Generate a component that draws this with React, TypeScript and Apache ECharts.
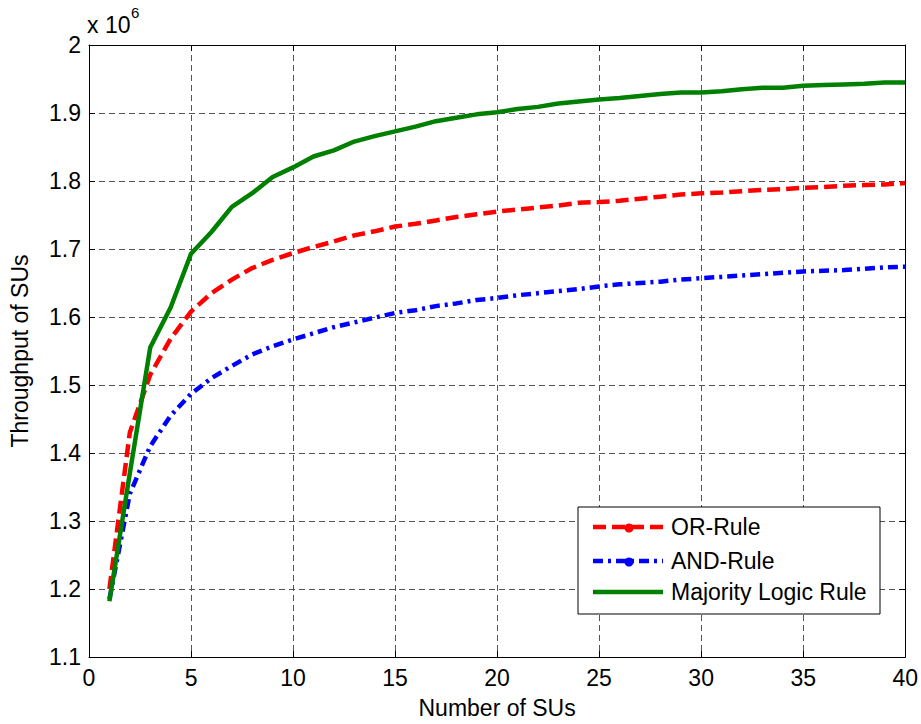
import React, { useEffect, useRef } from "react";
import * as echarts from "echarts";

const xValues = [1,2,3,4,5,6,7,8,9,10,11,12,13,14,15,16,17,18,19,20,21,22,23,24,25,26,27,28,29,30,31,32,33,34,35,36,37,38,39,40];
const orRule = [1.20,1.43,1.515,1.568,1.608,1.635,1.655,1.672,1.684,1.694,1.703,1.711,1.720,1.726,1.733,1.737,1.742,1.747,1.751,1.755,1.758,1.761,1.764,1.768,1.769,1.771,1.774,1.777,1.780,1.782,1.783,1.785,1.787,1.788,1.790,1.791,1.793,1.794,1.795,1.797];
const andRule = [1.185,1.34,1.41,1.455,1.487,1.51,1.528,1.545,1.557,1.567,1.576,1.585,1.592,1.599,1.606,1.610,1.616,1.620,1.625,1.628,1.632,1.635,1.638,1.641,1.645,1.648,1.650,1.652,1.655,1.657,1.659,1.661,1.663,1.665,1.667,1.668,1.669,1.671,1.673,1.674];
const majorityRule = [1.182,1.37,1.555,1.614,1.693,1.725,1.762,1.782,1.806,1.820,1.836,1.845,1.858,1.866,1.873,1.880,1.888,1.893,1.898,1.901,1.906,1.909,1.914,1.917,1.920,1.922,1.925,1.928,1.930,1.930,1.932,1.935,1.937,1.937,1.940,1.941,1.942,1.943,1.945,1.945];
const seriesNames = ["OR-Rule", "AND-Rule", "Majority Logic Rule"];
const xTitle = "Number of SUs";
const yTitle = "Throughput of SUs";

const FONT = "Liberation Sans, Arial, Helvetica, sans-serif";
const FS = 23;
const LW = 4.5;
const RED_DASH = [13, 6];
const BLUE_DASH = [10, 5, 3, 5];

export default function App() {
  const ref = useRef<HTMLDivElement>(null);
  useEffect(() => {
    if (!ref.current) return;
    const chart = echarts.init(ref.current, undefined, { renderer: "svg" });
    const pair = (arr: number[]) => xValues.map((x, i) => [x, arr[i]]);
    const gridLine = { show: true, lineStyle: { color: "#555", width: 1, type: [6, 4] as any } };
    const axisLine = { show: true, onZero: false, lineStyle: { color: "#000", width: 1 } };
    const tick = { show: true, inside: true, length: 6, lineStyle: { color: "#000" } };
    const labelStyle = { color: "#000", fontSize: FS, fontFamily: FONT };

    const legX = 578, legY = 507, legW = 302, legH = 107;
    const rows = [527, 561, 592];
    const colors = ["#ff0000", "#0000ff", "#008000"];
    const dashes: any[] = [RED_DASH, BLUE_DASH, null];
    const legendEls: any[] = [
      { type: "rect", shape: { x: legX, y: legY, width: legW, height: legH }, style: { fill: "#fff", stroke: "#000", lineWidth: 1 }, z: 100 },
    ];
    rows.forEach((ry, i) => {
      legendEls.push({
        type: "line",
        shape: { x1: 593, y1: ry, x2: 663, y2: ry },
        style: { stroke: colors[i], lineWidth: LW, lineDash: dashes[i] || undefined },
        z: 101,
      });
      if (i < 2) {
        legendEls.push({ type: "circle", shape: { cx: 629, cy: ry + 1, r: 4.5 }, style: { fill: colors[i] }, z: 102 });
      }
      legendEls.push({
        type: "text",
        x: 671,
        y: ry,
        style: { text: seriesNames[i], fill: "#000", fontSize: FS, fontFamily: FONT, verticalAlign: "middle", align: "left" },
        z: 102,
      });
    });

    chart.setOption({
      animation: false,
      backgroundColor: "#fff",
      grid: { left: 87, right: 15, top: 45, bottom: 65, containLabel: false },
      xAxis: [
        {
          type: "value", min: 0, max: 40, interval: 5,
          name: xTitle, nameLocation: "middle", nameGap: 39,
          nameTextStyle: { color: "#000", fontSize: FS, fontFamily: FONT },
          axisLine, axisTick: tick, splitLine: gridLine,
          axisLabel: { ...labelStyle, margin: 9 },
        },
        {
          type: "value", position: "top", min: 0, max: 40, interval: 5,
          axisLine, axisTick: tick, splitLine: { show: false }, axisLabel: { show: false },
        },
      ],
      yAxis: [
        {
          type: "value", min: 1.1, max: 2, interval: 0.1,
          name: yTitle, nameLocation: "middle", nameGap: 58,
          nameTextStyle: { color: "#000", fontSize: FS, fontFamily: FONT },
          axisLine, axisTick: tick, splitLine: gridLine,
          axisLabel: { ...labelStyle, margin: 8, formatter: (v: number) => String(Math.round(v * 10) / 10) },
        },
        {
          type: "value", position: "right", min: 1.1, max: 2, interval: 0.1,
          axisLine, axisTick: tick, splitLine: { show: false }, axisLabel: { show: false },
        },
      ],
      series: [
        {
          name: seriesNames[0], type: "line", data: pair(orRule), showSymbol: false, symbol: "none",
          lineStyle: { color: colors[0], width: LW, type: RED_DASH as any, cap: "butt" }, z: 3,
        },
        {
          name: seriesNames[1], type: "line", data: pair(andRule), showSymbol: false, symbol: "none",
          lineStyle: { color: colors[1], width: LW, type: BLUE_DASH as any, cap: "butt" }, z: 2,
        },
        {
          name: seriesNames[2], type: "line", data: pair(majorityRule), showSymbol: false, symbol: "none",
          lineStyle: { color: colors[2], width: LW }, z: 4,
        },
      ],
      graphic: [
        { type: "text", x: 87, y: 25, style: { text: "x 10", fill: "#000", fontSize: FS, fontFamily: FONT, verticalAlign: "middle" } },
        { type: "text", x: 131, y: 12, style: { text: "6", fill: "#000", fontSize: 15, fontFamily: FONT, verticalAlign: "middle" } },
        ...legendEls,
      ],
    });
    return () => chart.dispose();
  }, []);
  return <div ref={ref} style={{ position: "fixed", left: 0, top: 0, width: 921, height: 724 }} />;
}
